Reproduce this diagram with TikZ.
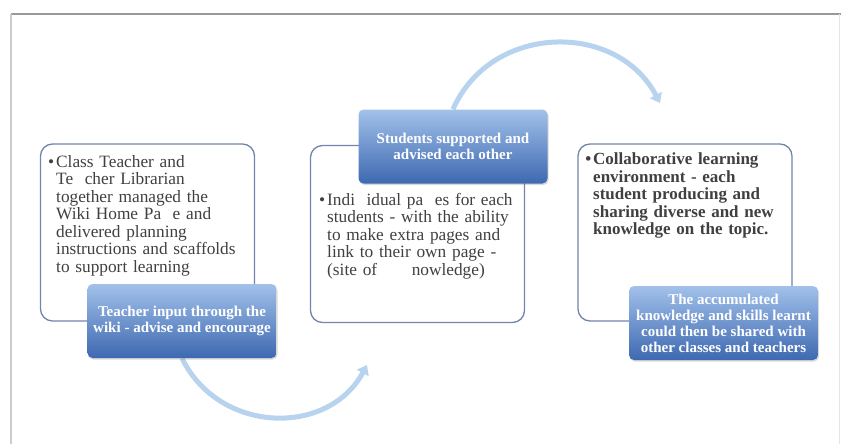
\documentclass[tikz,border=0pt]{standalone}
\usepackage{fontspec}
\setmainfont{Liberation Serif}
\usepackage{tikz}
\usetikzlibrary{arrows.meta,shadows,backgrounds}

\definecolor{panelline}{HTML}{7384AD}
\definecolor{boxtop}{HTML}{A2C1EA}
\definecolor{boxbottom}{HTML}{3E69B1}
\definecolor{arcblue}{HTML}{B7D3EE}
\definecolor{bodytext}{HTML}{404040}

\begin{document}
\begin{tikzpicture}[x=1pt, y=-1pt,
        panel/.style={draw=panelline, line width=1.3pt, rounded corners=12pt, fill=white, minimum width=214pt, minimum height=177pt},
        stage/.style={rounded corners=5pt, top color=boxtop, bottom color=boxbottom, minimum width=189pt, minimum height=74pt, inner sep=2pt, text=white, align=center, font=\fontsize{15}{16}\selectfont\bfseries, drop shadow={opacity=0.3, shadow xshift=1pt, shadow yshift=-1.5pt}},
        notes/.style={anchor=north west, text width=205pt, align=left, inner sep=0pt, text=bodytext, font=\fontsize{17.3}{17.5}\selectfont},
        cyclearc/.style={draw=arcblue, line width=5pt, -{Triangle[length=9pt, width=13pt]}}]
    \useasboundingbox (0,0) rectangle (841,444);

    \draw[draw=black!40, line width=1.2pt] (841,14) -- (11,14);
    \draw[draw=black!20, line width=1.2pt] (11,14) -- (11,444);
    \draw[draw=black!10, line width=1pt] (839,14) -- (839,444);

    \node[panel] (leftpanel) at (147.5,232.5) {};
    \node[panel] (midpanel) at (417.5,234) {};
    \node[panel] (rightpanel) at (685,232.5) {};

    \node[notes] (leftnotes) at (47,155) {\leftskip=9pt\leavevmode\llap{\textbullet\hspace{2pt}}Class Teacher and\\ Te\ \ cher Librarian\\ together managed the\\ Wiki Home Pa\ \ e and\\ delivered planning\\ instructions and scaffolds\\ to support learning\par};
    \node[notes] (midnotes) at (320,193) {\leftskip=7pt\leavevmode\llap{\textbullet\hspace{2pt}}Indi\ \ idual pa\ \ es for each\\ students - with the ability\\ to make extra pages and\\ link to their own page -\\ (site of\ \ \ \ \ \ nowledge)\par};
    \node[notes, font=\fontsize{17}{17.5}\selectfont\bfseries] (rightnotes) at (585,153) {\leftskip=8pt\leavevmode\llap{\textbullet\hspace{2pt}}Collaborative learning\\ environment - each\\ student producing and\\ sharing diverse and new\\ knowledge on the topic.\par};

    \node[stage] (teacherbox) at (182,321) {Teacher input through the\\ wiki - advise and encourage};
    \node[stage] (studentsbox) at (453,146.5) {Students supported and\\ advised each other};
    \node[stage] (sharedbox) at (723.5,323) {The accumulated\\ knowledge and skills learnt\\ could then be shared with\\ other classes and teachers};

    \coordinate (toptip) at (660,103);
    \coordinate (bottomtip) at (367,365);

    \begin{scope}[on background layer]
        \draw[cyclearc] (studentsbox.north) .. controls (491,23) and (617,21) .. (toptip);
        \draw[cyclearc] (teacherbox.south) .. controls (219,434) and (328,437) .. (bottomtip);
    \end{scope}
\end{tikzpicture}
\end{document}
